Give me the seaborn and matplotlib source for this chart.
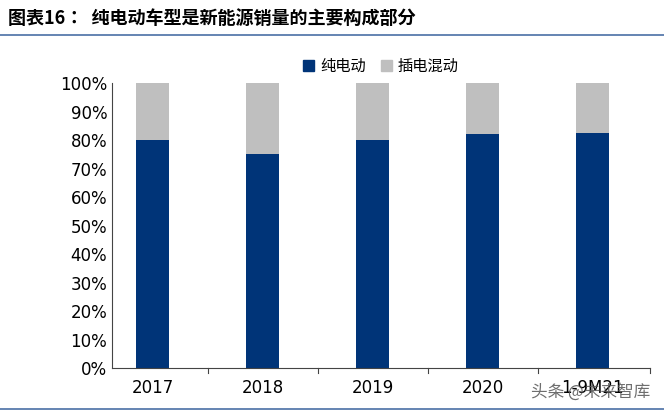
import pandas as pd
import seaborn as sns
import matplotlib.pyplot as plt
from matplotlib.lines import Line2D
from matplotlib.patches import Patch

plt.rcParams['font.family'] = ['Noto Sans CJK JP', 'Noto Sans CJK SC', 'DejaVu Sans']
plt.rcParams['font.sans-serif'] = ['Noto Sans CJK JP', 'Noto Sans CJK SC', 'DejaVu Sans']

years = ['2017', '2018', '2019', '2020', '1-9M21']
bev_share = [80.0, 75.0, 80.0, 82.0, 82.5]
phev_share = [20.0, 25.0, 20.0, 18.0, 17.5]

navy = '#003478'
grey = '#bfbfbf'

df = pd.DataFrame({'year': years, 'bev': bev_share, 'phev': phev_share})
df['total'] = df['bev'] + df['phev']

fig = plt.figure(figsize=(6.64, 4.15), dpi=100)
ax = fig.add_axes([0.169, 0.113, 0.81, 0.687])

sns.barplot(data=df, x='year', y='total', color=grey, width=0.3, ax=ax, saturation=1)
sns.barplot(data=df, x='year', y='bev', color=navy, width=0.3, ax=ax, saturation=1)

ax.set_ylim(0, 100)
ax.set_yticks(range(0, 101, 10))
ax.set_yticklabels([f'{v}%' for v in range(0, 101, 10)], fontsize=12, fontfamily='DejaVu Sans')
ax.set_xticks(range(len(years)))
ax.set_xticklabels(years, fontsize=12, fontfamily='DejaVu Sans')
ax.tick_params(axis='x', length=0, pad=8)
ax.tick_params(axis='y', length=0)
ax.set_xlabel('')
ax.set_ylabel('')
for s in ['top', 'right']:
    ax.spines[s].set_visible(False)
ax.spines['left'].set_color('#444444')
ax.spines['bottom'].set_color('#444444')
ax.set_xlim(-0.37, 4.52)
for xpos in [0.5, 1.5, 2.5, 3.5, 4.52]:
    ax.plot([xpos, xpos], [0, -1.8], color='#444444', lw=0.8, clip_on=False)

ax.legend(handles=[Patch(color=navy, label='纯电动'), Patch(color=grey, label='插电混动')],
          loc='lower center', bbox_to_anchor=(0.5, 0.98), ncol=2, frameon=False,
          fontsize=11, handlelength=0.7, handleheight=0.7, columnspacing=1.0, handletextpad=0.4)

fig.text(0.012, 0.955, '图表16：  纯电动车型是新能源销量的主要构成部分', fontsize=13,
         fontweight='bold', va='center')
fig.add_artist(Line2D([0, 1], [0.915, 0.915], color='#4a6fa5', lw=1.2))
fig.add_artist(Line2D([0, 1], [0.015, 0.015], color='#4a6fa5', lw=1.2))
fig.text(0.80, 0.045, '头条 @未来智库', fontsize=12, color='#555555', alpha=0.85)

fig.savefig('out.png', dpi=100)
